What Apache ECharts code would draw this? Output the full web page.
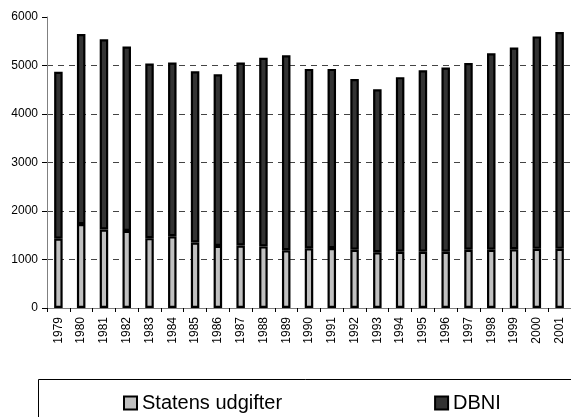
<!DOCTYPE html>
<html>
<head>
<meta charset="utf-8">
<script src="https://cdn.jsdelivr.net/npm/echarts@6/dist/echarts.min.js"></script>
<style>
html,body{margin:0;padding:0;background:#fff;}
#c{width:571px;height:417px;}
</style>
</head>
<body>
<div id="c"></div>
<script>
const years = ['1979','1980','1981','1982','1983','1984','1985','1986','1987','1988','1989','1990','1991','1992','1993','1994','1995','1996','1997','1998','1999','2000','2001'];
const statensUdgifter = [1430,1730,1620,1590,1440,1480,1350,1280,1290,1270,1190,1230,1235,1200,1150,1160,1160,1160,1200,1200,1210,1220,1220];
const totals = [4870,5650,5540,5390,5040,5060,4880,4820,5060,5160,5210,4930,4930,4720,4510,4760,4900,4960,5050,5250,5370,5600,5690];
const dbni = totals.map((t, i) => t - statensUdgifter[i]);
const yTicks = [0,1000,2000,3000,4000,5000,6000];

const font = '"Liberation Sans", Arial, sans-serif';
const chart = echarts.init(document.getElementById('c'), null, {renderer: 'canvas'});
chart.setOption({
  animation: false,
  backgroundColor: '#fff',
  grid: {left: 47, top: 17, width: 531, height: 291, containLabel: false},
  xAxis: {
    type: 'category',
    data: years,
    axisLine: {show: true, lineStyle: {color: '#808080', width: 1}},
    axisTick: {show: true, length: 4, lineStyle: {color: '#000'}},
    axisLabel: {rotate: 90, margin: 9, color: '#000', fontSize: 12, fontFamily: font},
    splitLine: {show: false}
  },
  yAxis: {
    type: 'value',
    min: yTicks[0],
    max: yTicks[yTicks.length - 1],
    interval: 1000,
    axisLine: {show: true, lineStyle: {color: '#808080', width: 1}},
    axisTick: {show: true, length: 5, lineStyle: {color: '#000'}},
    axisLabel: {margin: 9, color: '#000', fontSize: 12, fontFamily: font, formatter: v => String(v)},
    splitLine: {
      show: true,
      lineStyle: {color: ['#444','#444','#444','#444','#444','#444','rgba(0,0,0,0)'], type: [6, 5], width: 1}
    }
  },
  legend: {
    left: 118,
    top: 388,
    icon: 'rect',
    itemWidth: 13,
    itemHeight: 13,
    itemGap: 152,
    textStyle: {fontSize: 20, color: '#000', fontFamily: font},
    data: [
      {name: 'Statens udgifter', itemStyle: {color: '#c0c0c0', borderColor: '#000', borderWidth: 2}},
      {name: 'DBNI', itemStyle: {color: '#333333', borderColor: '#000', borderWidth: 2}}
    ]
  },
  graphic: [{
    type: 'rect',
    shape: {x: 38.5, y: 379.5, width: 600, height: 100},
    style: {fill: 'none', stroke: '#000', lineWidth: 1},
    silent: true
  }],
  series: [
    {
      name: 'Statens udgifter',
      type: 'bar',
      stack: 'total',
      barWidth: 8.5,
      data: statensUdgifter,
      itemStyle: {color: '#c0c0c0', borderColor: '#000', borderWidth: 2.2}
    },
    {
      name: 'DBNI',
      type: 'bar',
      stack: 'total',
      barWidth: 8.5,
      data: dbni,
      itemStyle: {color: '#333333', borderColor: '#000', borderWidth: 2.2}
    }
  ]
});
</script>
</body>
</html>
